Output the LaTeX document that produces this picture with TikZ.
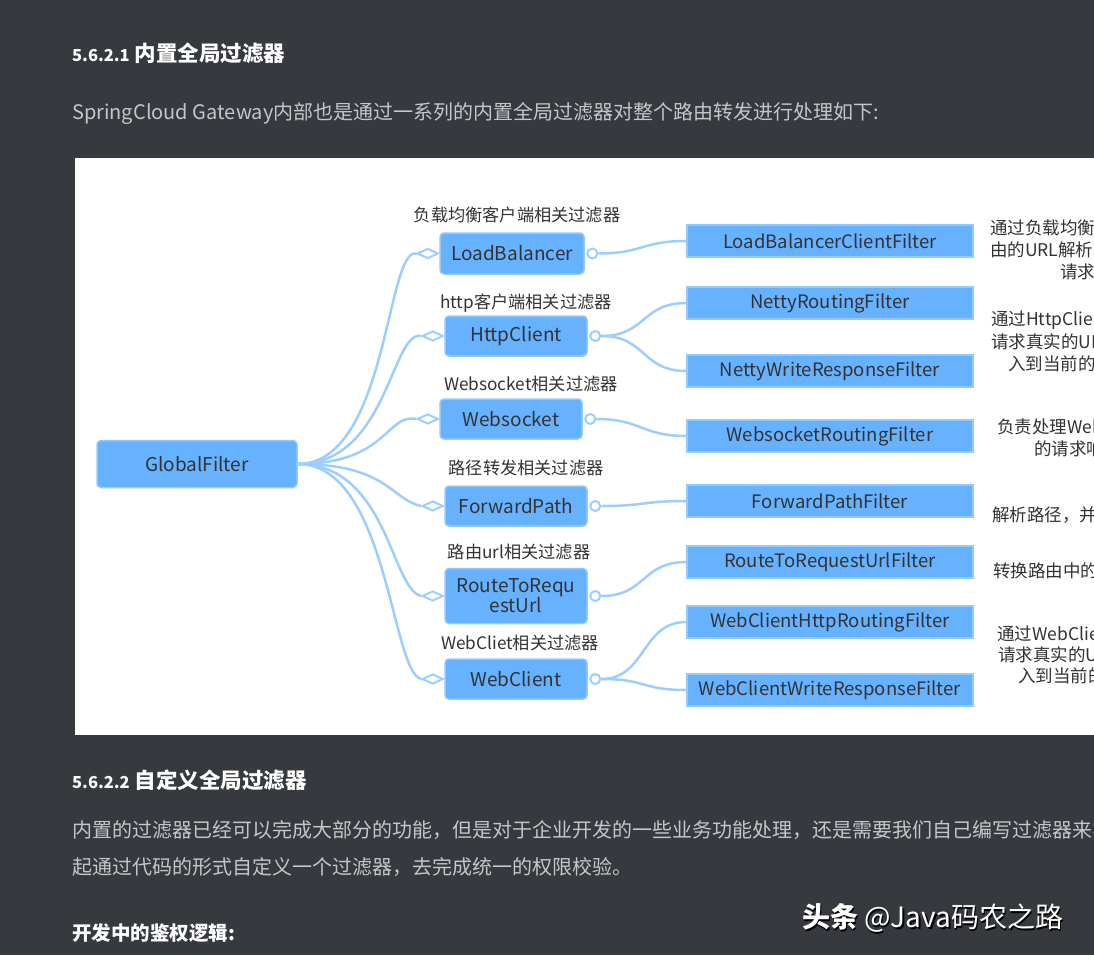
\documentclass[tikz,border=0pt]{standalone}
\usepackage{fontspec}
\setmainfont{Noto Sans CJK SC}
\usetikzlibrary{shapes.geometric}
\definecolor{bg}{HTML}{36393D}
\definecolor{boxfill}{HTML}{66B2FF}
\definecolor{boxedge}{HTML}{94C9FF}
\definecolor{connc}{HTML}{9DCEFF}
\definecolor{ink}{HTML}{333333}
\definecolor{para}{HTML}{C4C7CA}
\begin{document}
\begin{tikzpicture}[x=1pt,y=-1pt,
 grp/.style={rounded corners=4pt, fill=boxfill, draw=boxedge, line width=1.5pt, minimum width=142pt, minimum height=40pt, text=ink, font=\fontsize{19}{20}\selectfont, align=center, inner sep=2pt},
 leaf/.style={fill=boxfill, draw=boxedge, line width=1.5pt, minimum width=286pt, minimum height=32pt, text=ink, font=\fontsize{18.5}{20}\selectfont, inner sep=0pt},
 lbl/.style={text=ink, font=\fontsize{17.2}{17}\selectfont, inner sep=0pt},
 desc/.style={text=ink, font=\fontsize{17.5}{17.5}\selectfont, inner sep=0pt, anchor=west},
 conn/.style={draw=connc, line width=2.5pt},
 dia/.style={diamond, draw=connc, fill=white, line width=2pt, minimum width=21pt, minimum height=10pt, inner sep=0pt, aspect=2.2, anchor=east},
 knob/.style={circle, draw=connc, fill=white, line width=2pt, minimum size=10pt, inner sep=0pt, anchor=west, xshift=1.5pt},
 doc/.style={anchor=west, inner sep=0pt},
 parastyle/.style={doc, text=para, font=\fontsize{20}{20}\selectfont},
]
\useasboundingbox (0,0) rectangle (1094,955);
\fill[bg] (0,0) rectangle (1094,955);
\fill[white] (75,158) rectangle (1094,735);

% document text
\node[doc, text=white, font=\fontsize{21.5}{22}\selectfont\bfseries] (h1) at (72,53) {{\fontsize{16.5}{16}\selectfont 5.6.2.1} 内置全局过滤器};
\node[parastyle] (p1) at (72,113) {SpringCloud Gateway内部也是通过一系列的内置全局过滤器对整个路由转发进行处理如下:};
\node[doc, text=white, font=\fontsize{21.5}{22}\selectfont\bfseries] (h2) at (72,780) {{\fontsize{16.5}{16}\selectfont 5.6.2.2} 自定义全局过滤器};
\begin{scope}
\clip (0,740) rectangle (1094,955);
\node[parastyle] (p2) at (72,830) {内置的过滤器已经可以完成大部分的功能，但是对于企业开发的一些业务功能处理，还是需要我们自己编写过滤器来实现的};
\end{scope}
\node[parastyle] (p3) at (72,867) {起通过代码的形式自定义一个过滤器，去完成统一的权限校验。};
\node[parastyle, text=white, font=\fontsize{19.5}{19.5}\selectfont\bfseries] (p4) at (72,933) {开发中的鉴权逻辑:};
\node[doc, text=black, font=\fontsize{28}{28}\selectfont] (wm0) at (803.5,919.5) {{\bfseries 头条} @Java码农之路};
\node[doc, text=white, font=\fontsize{28}{28}\selectfont] (wm) at (802,918) {{\bfseries 头条} @Java码农之路};

% main node
\node[grp, minimum width=200pt, minimum height=47pt] (gf) at (197,464) {GlobalFilter};

% group nodes
\node[grp, minimum width=144pt, minimum height=41pt] (lb) at (512,253.5) {LoadBalancer};
\node[grp] (hc) at (516,336) {HttpClient};
\node[grp] (ws) at (511,419) {Websocket};
\node[grp] (fp) at (516,506) {ForwardPath};
\node[grp, minimum height=55pt] (rt) at (516,596) {RouteToRequ\\estUrl};
\node[grp] (wc) at (516,679) {WebClient};

% group labels
\node[lbl] (tlb) at (517,215) {负载均衡客户端相关过滤器};
\node[lbl] (thc) at (526,303) {http客户端相关过滤器};
\node[lbl] (tws) at (531,384) {Websocket相关过滤器};
\node[lbl] (tfp) at (526,468) {路径转发相关过滤器};
\node[lbl] (trt) at (519,552) {路由url相关过滤器};
\node[lbl] (twc) at (520,643) {WebCliet相关过滤器};

% leaves
\node[leaf] (l1) at (830,241) {LoadBalancerClientFilter};
\node[leaf] (l2) at (830,303) {NettyRoutingFilter};
\node[leaf] (l3) at (830,371) {NettyWriteResponseFilter};
\node[leaf] (l4) at (830,436) {WebsocketRoutingFilter};
\node[leaf] (l5) at (830,501) {ForwardPathFilter};
\node[leaf] (l6) at (830,562) {RouteToRequestUrlFilter};
\node[leaf] (l7) at (830,622) {WebClientHttpRoutingFilter};
\node[leaf] (l8) at (830,690) {WebClientWriteResponseFilter};

% diamonds and knobs
\foreach \n in {lb,hc,ws,fp,rt,wc}{
  \node[dia] (d\n) at (\n.west) {};
  \node[knob] (k\n) at (\n.east) {};
}

% connectors root -> groups
\foreach \n in {lb,hc,ws,fp,rt,wc}{
  \draw[conn] (gf.east) .. controls +(90,0) and +(-30,-6) .. (d\n.west);
}
% connectors groups -> leaves
\draw[conn] (klb.east) .. controls +(45,0) and +(-45,0) .. (l1.west);
\draw[conn] (khc.east) .. controls +(45,0) and +(-45,0) .. (l2.west);
\draw[conn] (khc.east) .. controls +(45,0) and +(-45,0) .. (l3.west);
\draw[conn] (kws.east) .. controls +(45,0) and +(-45,0) .. (l4.west);
\draw[conn] (kfp.east) .. controls +(45,0) and +(-45,0) .. (l5.west);
\draw[conn] (krt.east) .. controls +(45,0) and +(-45,0) .. (l6.west);
\draw[conn] (kwc.east) .. controls +(45,0) and +(-45,0) .. (l7.west);
\draw[conn] (kwc.east) .. controls +(45,0) and +(-45,0) .. (l8.west);

% descriptions (clipped at right edge)
\begin{scope}
\clip (975,158) rectangle (1094,735);
\node[desc] (a1) at (990,228) {通过负载均衡客户端根据路};
\node[desc] (a2) at (990,250) {由的URL解析转换成真实的};
\node[desc] (a3) at (1060,272) {请求URL};
\node[desc] (b1) at (991,320) {通过HttpClient客户端转发};
\node[desc] (b2) at (991,342) {请求真实的URL并将响应写};
\node[desc] (b3) at (1008,364) {入到当前的请求响应中};
\node[desc] (c1) at (997,427) {负责处理Websocket类型};
\node[desc] (c2) at (1034,449) {的请求响应信息};
\node[desc] (e1) at (992,515) {解析路径，并将路径转发};
\node[desc] (f1) at (993,571) {转换路由中的uri信息};
\node[desc] (g1) at (997,634) {通过WebClient客户端转发};
\node[desc] (g2) at (998,655) {请求真实的URL并将响应写};
\node[desc] (g3) at (1018,676) {入到当前的请求响应中};
\end{scope}
\end{tikzpicture}
\end{document}
